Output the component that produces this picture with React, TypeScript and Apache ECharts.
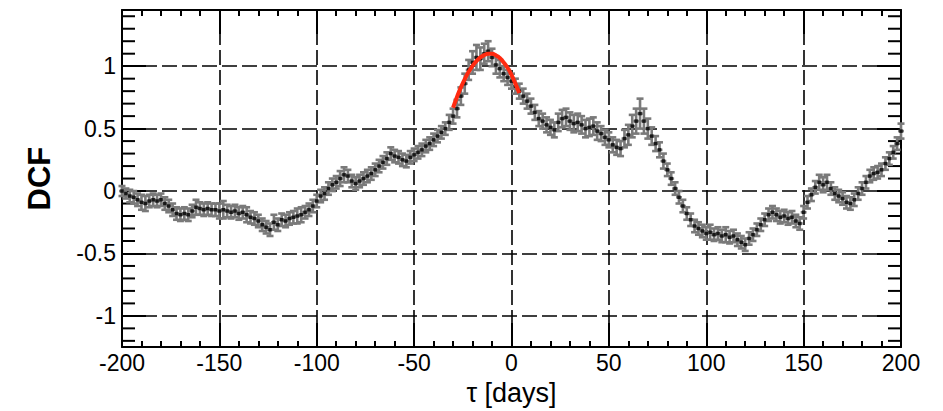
import React, { useEffect, useRef } from "react";
import * as echarts from "echarts";

// lag grid of the DCF (days): start and step
const tauStart = -200;
const tauStep = 2;

// DCF values, one per lag (-200 ... 200 every 2 days)
const dcfValues = [
  0.00, -0.02, -0.04, -0.05, -0.07, -0.09, -0.10, -0.08, -0.07, -0.08,
  -0.07, -0.10, -0.12, -0.15, -0.18, -0.19, -0.18, -0.19, -0.16, -0.13,
  -0.14, -0.15, -0.14, -0.15, -0.15, -0.16, -0.15, -0.16, -0.17, -0.16,
  -0.18, -0.17, -0.19, -0.21, -0.22, -0.24, -0.27, -0.29, -0.31, -0.25,
  -0.27, -0.23, -0.24, -0.22, -0.21, -0.20, -0.19, -0.17, -0.15, -0.12,
  -0.08, -0.04, -0.02, 0.02, 0.05, 0.07, 0.10, 0.13, 0.12, 0.08,
  0.06, 0.08, 0.10, 0.12, 0.14, 0.17, 0.20, 0.23, 0.26, 0.30,
  0.28, 0.27, 0.25, 0.24, 0.27, 0.29, 0.31, 0.33, 0.36, 0.38,
  0.41, 0.44, 0.47, 0.50, 0.55, 0.60, 0.66, 0.76, 0.86, 0.97,
  1.03, 1.07, 1.06, 1.10, 1.12, 1.07, 1.01, 0.98, 0.94, 0.91,
  0.88, 0.84, 0.80, 0.76, 0.72, 0.68, 0.63, 0.58, 0.56, 0.53,
  0.51, 0.49, 0.55, 0.58, 0.59, 0.56, 0.54, 0.55, 0.53, 0.50,
  0.51, 0.52, 0.48, 0.46, 0.43, 0.41, 0.37, 0.35, 0.34, 0.42,
  0.45, 0.52, 0.56, 0.62, 0.56, 0.50, 0.44, 0.38, 0.33, 0.24,
  0.17, 0.10, 0.02, -0.05, -0.12, -0.18, -0.23, -0.28, -0.30, -0.32,
  -0.34, -0.33, -0.35, -0.34, -0.36, -0.35, -0.37, -0.36, -0.39, -0.41,
  -0.43, -0.38, -0.35, -0.31, -0.27, -0.23, -0.19, -0.17, -0.19, -0.21,
  -0.20, -0.22, -0.21, -0.24, -0.26, -0.17, -0.09, -0.03, 0.03, 0.07,
  0.05, 0.07, 0.02, -0.02, -0.04, -0.06, -0.09, -0.10, -0.07, -0.02,
  0.02, 0.07, 0.12, 0.14, 0.15, 0.17, 0.22, 0.26, 0.31, 0.38,
  0.48,
];

// DCF errors, one per lag
const dcfErrors = [
  0.04, 0.04, 0.05, 0.05, 0.05, 0.06, 0.06, 0.05, 0.05, 0.05,
  0.05, 0.05, 0.05, 0.05, 0.05, 0.05, 0.05, 0.05, 0.05, 0.06,
  0.05, 0.05, 0.05, 0.05, 0.05, 0.06, 0.07, 0.05, 0.05, 0.05,
  0.05, 0.05, 0.06, 0.05, 0.05, 0.05, 0.05, 0.05, 0.05, 0.06,
  0.05, 0.05, 0.05, 0.05, 0.05, 0.06, 0.06, 0.05, 0.05, 0.05,
  0.05, 0.05, 0.05, 0.05, 0.05, 0.05, 0.06, 0.06, 0.05, 0.05,
  0.05, 0.05, 0.05, 0.05, 0.05, 0.05, 0.05, 0.05, 0.05, 0.05,
  0.05, 0.05, 0.05, 0.05, 0.05, 0.05, 0.05, 0.05, 0.05, 0.05,
  0.05, 0.05, 0.05, 0.05, 0.06, 0.06, 0.07, 0.07, 0.08, 0.08,
  0.09, 0.10, 0.09, 0.08, 0.08, 0.07, 0.07, 0.07, 0.06, 0.06,
  0.06, 0.06, 0.06, 0.06, 0.06, 0.06, 0.06, 0.06, 0.06, 0.06,
  0.06, 0.06, 0.07, 0.07, 0.07, 0.07, 0.07, 0.07, 0.07, 0.07,
  0.07, 0.07, 0.07, 0.06, 0.06, 0.06, 0.06, 0.06, 0.06, 0.07,
  0.08, 0.09, 0.10, 0.12, 0.10, 0.08, 0.07, 0.06, 0.06, 0.06,
  0.05, 0.05, 0.05, 0.05, 0.05, 0.05, 0.05, 0.05, 0.05, 0.05,
  0.05, 0.06, 0.05, 0.05, 0.05, 0.06, 0.05, 0.05, 0.05, 0.05,
  0.05, 0.05, 0.05, 0.05, 0.05, 0.05, 0.05, 0.05, 0.05, 0.05,
  0.05, 0.05, 0.05, 0.05, 0.05, 0.05, 0.05, 0.05, 0.05, 0.06,
  0.06, 0.06, 0.05, 0.05, 0.05, 0.05, 0.05, 0.05, 0.05, 0.05,
  0.05, 0.05, 0.05, 0.05, 0.05, 0.05, 0.05, 0.05, 0.05, 0.05,
  0.06,
];

// red parabolic fit around the peak
const fitTau = [-30, -28, -26, -24, -22, -20, -18, -16, -14, -12, -10, -8, -6, -4, -2, 0, 2, 4];
const fitValues = [0.667, 0.753, 0.83, 0.897, 0.955, 1.003, 1.04, 1.07, 1.089, 1.099, 1.099, 1.087, 1.065, 1.03, 0.987, 0.93, 0.86, 0.785];

// axis ranges and ticks
const xMin = -200;
const xMax = 200;
const xInterval = 50;
const yMin = -1.25;
const yMax = 1.45;
const yMinorTicks = [-1.2, -1.1, -0.9, -0.8, -0.7, -0.6, -0.4, -0.3, -0.2, -0.1, 0.1, 0.2, 0.3, 0.4, 0.6, 0.7, 0.8, 0.9, 1.1, 1.2, 1.3, 1.4];

const FONT = "'Liberation Sans', Arial, Helvetica, sans-serif";

export default function App() {
  const ref = useRef<HTMLDivElement>(null);

  useEffect(() => {
    if (!ref.current) return;
    const chart = echarts.init(ref.current, null, { renderer: "svg" });

    const points = dcfValues.map((v, i) => [tauStart + i * tauStep, v, dcfErrors[i]]);
    const fit = fitTau.map((t, i) => [t, fitValues[i]]);
    const minor = yMinorTicks.map((v) => [xMin, v]);

    const frameLine = { show: true, onZero: false, lineStyle: { color: "#000", width: 2 } };
    const dashed = { show: true, lineStyle: { color: "#000", width: 1.6, type: [15, 5] as any } };

    const option: any = {
      animation: false,
      backgroundColor: "#fff",
      grid: { left: 122, right: 42, top: 10, bottom: 60, containLabel: false },
      xAxis: [
        {
          type: "value",
          position: "bottom",
          min: xMin,
          max: xMax,
          interval: xInterval,
          axisLine: frameLine,
          axisTick: { show: true, inside: true, length: 24, lineStyle: { color: "#000", width: 2 } },
          minorTick: { show: true, splitNumber: 5, length: 6, lineStyle: { color: "#000", width: 2 } },
          splitLine: dashed,
          axisLabel: { color: "#000", fontSize: 23, fontFamily: FONT, margin: 4 },
          name: "τ [days]",
          nameLocation: "middle",
          nameGap: 24,
          nameTextStyle: { color: "#000", fontSize: 27, fontFamily: FONT },
        },
        {
          type: "value",
          position: "top",
          min: xMin,
          max: xMax,
          interval: xInterval,
          axisLine: frameLine,
          axisTick: { show: true, inside: true, length: 24, lineStyle: { color: "#000", width: 2 } },
          minorTick: { show: true, splitNumber: 5, length: 6, lineStyle: { color: "#000", width: 2 } },
          splitLine: { show: false },
          axisLabel: { show: false },
        },
      ],
      yAxis: [
        {
          type: "value",
          position: "left",
          min: yMin,
          max: yMax,
          splitNumber: 5,
          axisLine: frameLine,
          axisTick: { show: true, inside: true, length: 24, lineStyle: { color: "#000", width: 2 } },
          splitLine: dashed,
          axisLabel: {
            color: "#000",
            fontSize: 23,
            fontFamily: FONT,
            margin: 6,
            formatter: (v: number) => (Math.abs(v * 2 - Math.round(v * 2)) < 1e-6 ? String(v) : ""),
          },
          name: "DCF",
          nameLocation: "middle",
          nameGap: 67,
          nameTextStyle: { color: "#000", fontSize: 31, fontFamily: FONT, fontWeight: "bold" },
        },
        {
          type: "value",
          position: "right",
          min: yMin,
          max: yMax,
          splitNumber: 5,
          axisLine: frameLine,
          axisTick: { show: true, inside: true, length: 24, lineStyle: { color: "#000", width: 2 } },
          splitLine: { show: false },
          axisLabel: { show: false },
        },
      ],
      series: [
        {
          type: "custom",
          name: "ticks",
          silent: true,
          z: 1,
          data: minor,
          renderItem: (params: any, api: any) => {
            const v = api.value(1);
            const l = api.coord([xMin, v]);
            const r = api.coord([xMax, v]);
            const st = { stroke: "#000", lineWidth: 2 };
            return {
              type: "group",
              children: [
                { type: "line", shape: { x1: l[0], y1: l[1], x2: l[0] + 13, y2: l[1] }, style: st },
                { type: "line", shape: { x1: r[0] - 13, y1: r[1], x2: r[0], y2: r[1] }, style: st },
              ],
            };
          },
        },
        {
          type: "custom",
          name: "errors",
          silent: true,
          z: 3,
          data: points,
          renderItem: (params: any, api: any) => {
            const t = api.value(0);
            const v = api.value(1);
            const e = api.value(2);
            const lo = api.coord([t, v - e]);
            const hi = api.coord([t, v + e]);
            const le = api.coord([t - 1.5, v]);
            const ri = api.coord([t + 1.5, v]);
            const cap = 3.5;
            const st = { stroke: "#7a7a7a", lineWidth: 2.6 };
            return {
              type: "group",
              children: [
                { type: "line", shape: { x1: lo[0], y1: lo[1], x2: hi[0], y2: hi[1] }, style: st },
                { type: "line", shape: { x1: lo[0] - cap, y1: lo[1], x2: lo[0] + cap, y2: lo[1] }, style: st },
                { type: "line", shape: { x1: hi[0] - cap, y1: hi[1], x2: hi[0] + cap, y2: hi[1] }, style: st },
                { type: "line", shape: { x1: le[0], y1: le[1], x2: ri[0], y2: ri[1] }, style: st },
              ],
            };
          },
        },
        {
          type: "scatter",
          name: "DCF",
          z: 4,
          symbol: "rect",
          symbolSize: 3.5,
          itemStyle: { color: "#000" },
          data: points.map((p) => [p[0], p[1]]),
        },
        {
          type: "line",
          name: "fit",
          z: 5,
          smooth: true,
          showSymbol: false,
          lineStyle: { color: "#ff2a10", width: 4 },
          data: fit,
        },
      ],
    };

    chart.setOption(option);
    return () => chart.dispose();
  }, []);

  return (
    <div
      ref={ref}
      style={{ position: "fixed", left: 0, top: 0, width: 943, height: 411, background: "#fff" }}
    />
  );
}
